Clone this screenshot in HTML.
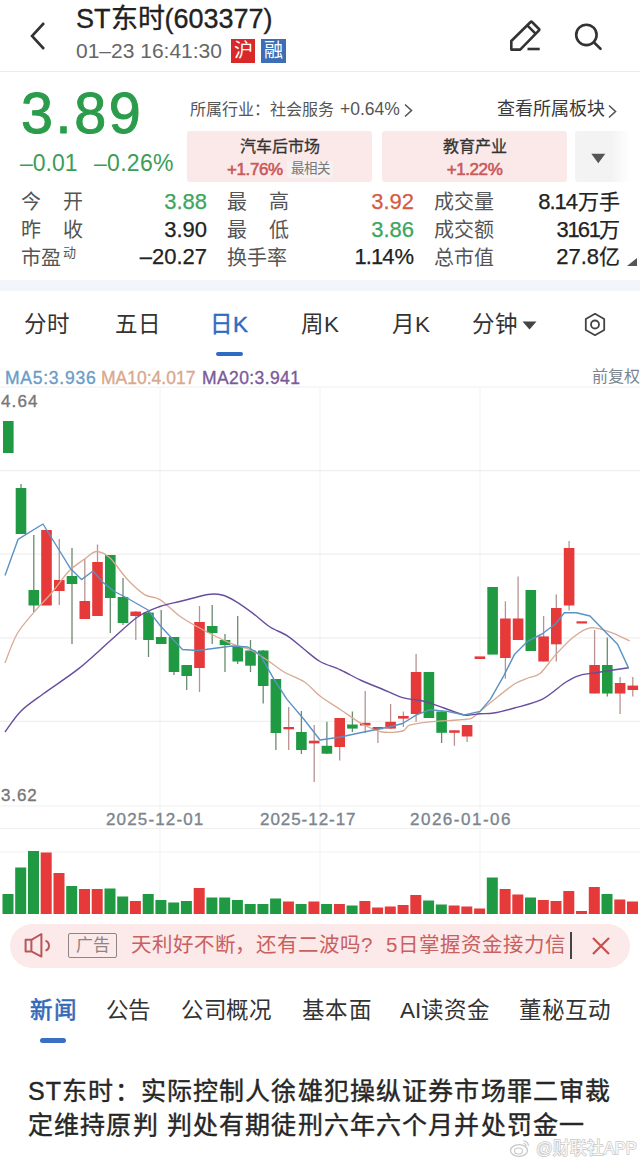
<!DOCTYPE html>
<html lang="zh-CN">
<head>
<meta charset="utf-8">
<style>
*{margin:0;padding:0;box-sizing:border-box}
html,body{width:640px;height:1163px;overflow:hidden;background:#fff}
body{font-family:"Liberation Sans",sans-serif;color:#222;position:relative}
.a{position:absolute;white-space:nowrap;line-height:1}
</style>
</head>
<body>
<!-- HEADER -->
<svg class="a" style="left:28px;top:20px" width="20" height="32" viewBox="0 0 20 32"><path d="M16 3 L4 16 L16 29" fill="none" stroke="#333" stroke-width="2.6"/></svg>
<div class="a" id="title" style="left:76px;top:6px;font-size:27px;color:#222;-webkit-text-stroke:0.35px #222">ST东时(603377)</div>
<div class="a" id="dt" style="left:76px;top:40px;font-size:21px;color:#666">01–23 16:41:30</div>
<div class="a" style="left:231px;top:39px;width:24px;height:24px;background:#d8282a;color:#fff;font-size:19px;text-align:center;line-height:24px">沪</div>
<div class="a" style="left:261px;top:39px;width:25px;height:24px;background:#3d6db5;color:#fff;font-size:19px;text-align:center;line-height:24px">融</div>
<div class="a" style="left:0;top:71px;width:640px;height:1px;background:#ececec"></div>

<!-- header icons -->
<svg class="a" style="left:500px;top:15px" width="50" height="45" viewBox="0 0 50 45"><path d="M11.3 34.6 L11.3 26 L30.6 7 Q31.3 6.3 32 7 L39 14 Q39.7 14.7 39 15.4 L20.2 34.6 Z" fill="none" stroke="#333" stroke-width="2.6" stroke-linejoin="round"/><path d="M27.3 10.4 L35.8 18.9" stroke="#333" stroke-width="2.6"/><path d="M27.5 34 L39.7 34" stroke="#333" stroke-width="2.6"/></svg>
<svg class="a" style="left:560px;top:10px" width="50" height="45" viewBox="0 0 50 45"><circle cx="26.4" cy="24.9" r="10.2" fill="none" stroke="#333" stroke-width="2.6"/><path d="M33.8 32.3 L40.5 38.8" stroke="#333" stroke-width="2.6" stroke-linecap="round"/></svg>

<!-- QUOTE -->
<div class="a" style="left:21px;top:84.5px;font-size:57.5px;color:#2b9c4b;letter-spacing:2.6px;-webkit-text-stroke:1px #2b9c4b">3.89</div>
<div class="a" style="left:20px;top:152px;font-size:23px;color:#3a9d58">–0.01</div>
<div class="a" style="left:94px;top:152px;font-size:23px;color:#3a9d58;letter-spacing:0.3px">–0.26%</div>
<div class="a" style="left:190px;top:102px;font-size:16px;color:#555">所属行业：社会服务</div>
<div class="a" style="left:340px;top:101px;font-size:17.5px;color:#555">+0.64%</div>
<svg class="a" style="left:403px;top:103px" width="11" height="15" viewBox="0 0 11 15"><path d="M2 1.5 L8.5 7.5 L2 13.5" fill="none" stroke="#555" stroke-width="1.6"/></svg>
<div class="a" style="left:497px;top:100px;font-size:18px;color:#3a3a3a">查看所属板块</div>
<svg class="a" style="left:607px;top:104px" width="11" height="15" viewBox="0 0 11 15"><path d="M2 1.5 L8.5 7.5 L2 13.5" fill="none" stroke="#555" stroke-width="1.6"/></svg>

<div class="a" style="left:187px;top:131px;width:185px;height:51px;background:#fbe9e9;border-radius:3px"></div>
<div class="a" style="left:382px;top:131px;width:185px;height:51px;background:#fbe9e9;border-radius:3px"></div>
<div class="a" style="left:575px;top:131px;width:65px;height:51px;background:linear-gradient(90deg,#f3f3f3 0%,#f3f3f3 55%,#fff 85%);border-radius:3px 0 0 3px"></div>
<div class="a" style="left:187px;top:138.5px;width:185px;text-align:center;font-size:16px;color:#333;-webkit-text-stroke:0.3px #333">汽车后市场</div>
<div class="a" style="left:227px;top:160.5px;font-size:17px;letter-spacing:-0.4px;color:#c9595a;-webkit-text-stroke:0.6px #c9595a">+1.76%</div>
<div class="a" style="left:287px;top:161px;width:46px;height:17px;background:#f6f1f1;border-radius:2px"></div>
<div class="a" style="left:291px;top:162px;font-size:13.5px;color:#777">最相关</div>
<div class="a" style="left:382px;top:138.5px;width:185px;text-align:center;font-size:16px;color:#333;-webkit-text-stroke:0.3px #333">教育产业</div>
<div class="a" style="left:382px;top:160.5px;width:185px;text-align:center;font-size:17px;letter-spacing:-0.4px;color:#c9595a;-webkit-text-stroke:0.6px #c9595a">+1.22%</div>
<svg class="a" style="left:591px;top:153px" width="15" height="11" viewBox="0 0 15 11"><path d="M0.3 0.8 L14.3 0.8 L7.3 10.2 Z" fill="#555"/></svg>

<!-- STATS -->
<div class="a" style="left:21px;top:188px;font-size:20px;color:#555;line-height:28px">今<span style="display:inline-block;width:22px"></span>开<br>昨<span style="display:inline-block;width:22px"></span>收<br>市盈<sup style="font-size:13px;vertical-align:top;line-height:13px;position:relative;top:2px;left:2px">动</sup></div>
<div class="a" style="left:100px;top:188px;width:107px;text-align:right;font-size:22px;line-height:27.5px;-webkit-text-stroke:0.25px #222"><span style="color:#3da55d;-webkit-text-stroke:0.25px #3da55d">3.88</span><br>3.90<br>–20.27</div>
<div class="a" style="left:227px;top:188px;font-size:20px;color:#555;line-height:28px">最<span style="display:inline-block;width:22px"></span>高<br>最<span style="display:inline-block;width:22px"></span>低<br>换手率</div>
<div class="a" style="left:300px;top:188px;width:114px;text-align:right;font-size:22px;line-height:27.5px;-webkit-text-stroke:0.25px #222"><span style="color:#d55a43;-webkit-text-stroke:0.25px #d55a43">3.92</span><br><span style="color:#3da55d;-webkit-text-stroke:0.25px #3da55d">3.86</span><br><span style="letter-spacing:-1px">1</span><span style="letter-spacing:-1px">.</span><span style="letter-spacing:-1px">1</span>4%</div>
<div class="a" style="left:434px;top:188px;font-size:20px;color:#555;line-height:28px">成交量<br>成交额<br>总市值</div>
<div class="a" style="left:500px;top:188px;width:120px;text-align:right;font-size:22px;line-height:27.5px;-webkit-text-stroke:0.25px #222"><span style="letter-spacing:-1px">8.</span><span style="letter-spacing:-1px">1</span>4<span style="font-size:21px">万手</span><br><span style="letter-spacing:-1.3px">3</span><span style="letter-spacing:-1.9px">1</span><span style="letter-spacing:-1.3px">6</span><span style="letter-spacing:-1.9px">1</span><span style="font-size:21px">万</span><br>27.8<span style="font-size:21px">亿</span></div>
<svg class="a" style="left:626px;top:258px" width="12" height="9" viewBox="0 0 12 9"><path d="M11 0 L11 8 L1 8 Z" fill="#555"/></svg>

<div class="a" style="left:0;top:280px;width:640px;height:11px;background:#f2f5f9"></div>
<!-- TABS -->
<div class="a" style="left:24px;top:314px;font-size:22.5px;color:#333">分时</div>
<div class="a" style="left:115px;top:314px;font-size:22.5px;color:#333">五日</div>
<div class="a" style="left:210px;top:314px;font-size:22.5px;color:#2f6bc4;-webkit-text-stroke:0.4px #2f6bc4">日K</div>
<div class="a" style="left:216px;top:352px;width:27px;height:4px;border-radius:2px;background:#2f6bc4"></div>
<div class="a" style="left:301px;top:314px;font-size:22.5px;color:#333">周K</div>
<div class="a" style="left:392px;top:314px;font-size:22.5px;color:#333">月K</div>
<div class="a" style="left:472px;top:314px;font-size:22.5px;color:#333">分钟</div>
<svg class="a" style="left:522px;top:321px" width="15" height="9" viewBox="0 0 15 9"><path d="M0.5 0.5 L14.5 0.5 L7.5 8.5 Z" fill="#444"/></svg>
<svg class="a" style="left:583px;top:312px" width="24" height="25" viewBox="0 0 24 25"><path d="M12 1.8 L21.2 7 L21.2 18 L12 23.2 L2.8 18 L2.8 7 Z" fill="none" stroke="#444" stroke-width="1.8" stroke-linejoin="round"/><circle cx="12" cy="12.5" r="4" fill="none" stroke="#444" stroke-width="1.8"/></svg>

<!-- MA legend -->
<div class="a" style="left:5px;top:370px;font-size:17.5px;color:#6a9cc8;letter-spacing:0.75px;-webkit-text-stroke:0.35px #6a9cc8">MA5:3.936</div>
<div class="a" style="left:101px;top:370px;font-size:17.5px;color:#d9a88c;-webkit-text-stroke:0.35px #d9a88c">MA10:4.017</div>
<div class="a" style="left:202px;top:370px;font-size:17.5px;color:#7b5a9a;letter-spacing:0.4px;-webkit-text-stroke:0.35px #7b5a9a">MA20:3.941</div>
<div class="a" style="left:592px;top:369px;font-size:16px;color:#7a8590">前复权</div>

<svg class="a" style="left:0;top:0" width="640" height="920" viewBox="0 0 640 920">
<line x1="0" y1="387" x2="640" y2="387" stroke="#efefef" stroke-width="1.2"/>
<line x1="0" y1="470.6" x2="640" y2="470.6" stroke="#efefef" stroke-width="1.2"/>
<line x1="0" y1="554.2" x2="640" y2="554.2" stroke="#efefef" stroke-width="1.2"/>
<line x1="0" y1="637.8" x2="640" y2="637.8" stroke="#efefef" stroke-width="1.2"/>
<line x1="0" y1="721.4" x2="640" y2="721.4" stroke="#efefef" stroke-width="1.2"/>
<line x1="0" y1="806" x2="640" y2="806" stroke="#efefef" stroke-width="1.2"/>
<line x1="0" y1="828.5" x2="640" y2="828.5" stroke="#efefef" stroke-width="1.2"/>
<line x1="0" y1="852" x2="640" y2="852" stroke="#f1f1f1" stroke-width="1"/>
<line x1="160" y1="387" x2="160" y2="914" stroke="#f2f2f2" stroke-width="1"/>
<line x1="320" y1="387" x2="320" y2="914" stroke="#f2f2f2" stroke-width="1"/>
<line x1="480" y1="387" x2="480" y2="914" stroke="#f2f2f2" stroke-width="1"/>
<rect x="3.0" y="421" width="10.6" height="32.0" fill="#1f9a43"/>
<line x1="21.0" y1="484" x2="21.0" y2="534" stroke="#6c8a72" stroke-width="1.3"/>
<rect x="15.7" y="488" width="10.6" height="46.0" fill="#1f9a43"/>
<line x1="33.8" y1="535" x2="33.8" y2="612" stroke="#6c8a72" stroke-width="1.3"/>
<rect x="28.5" y="590" width="10.6" height="15.5" fill="#1f9a43"/>
<rect x="41.2" y="530" width="10.6" height="75.5" fill="#e5393a"/>
<line x1="59.3" y1="539" x2="59.3" y2="605" stroke="#b89292" stroke-width="1.3"/>
<rect x="54.0" y="580" width="10.6" height="11.0" fill="#e5393a"/>
<line x1="72.0" y1="548" x2="72.0" y2="644" stroke="#6c8a72" stroke-width="1.3"/>
<rect x="66.7" y="576" width="10.6" height="8.0" fill="#1f9a43"/>
<line x1="84.8" y1="559" x2="84.8" y2="619" stroke="#b89292" stroke-width="1.3"/>
<rect x="79.5" y="601" width="10.6" height="18.0" fill="#e5393a"/>
<line x1="97.5" y1="544.5" x2="97.5" y2="616" stroke="#b89292" stroke-width="1.3"/>
<rect x="92.2" y="562" width="10.6" height="54.0" fill="#e5393a"/>
<line x1="110.3" y1="555" x2="110.3" y2="633" stroke="#6c8a72" stroke-width="1.3"/>
<rect x="105.0" y="555" width="10.6" height="43.0" fill="#1f9a43"/>
<line x1="123.0" y1="578" x2="123.0" y2="625" stroke="#6c8a72" stroke-width="1.3"/>
<rect x="117.7" y="597" width="10.6" height="26.0" fill="#1f9a43"/>
<line x1="135.8" y1="611" x2="135.8" y2="640" stroke="#b89292" stroke-width="1.3"/>
<rect x="130.4" y="611.6" width="10.6" height="4.4" fill="#e5393a"/>
<line x1="148.5" y1="612" x2="148.5" y2="657" stroke="#6c8a72" stroke-width="1.3"/>
<rect x="143.2" y="612.6" width="10.6" height="27.4" fill="#1f9a43"/>
<line x1="161.2" y1="610" x2="161.2" y2="644" stroke="#6c8a72" stroke-width="1.3"/>
<rect x="155.9" y="637" width="10.6" height="7.0" fill="#1f9a43"/>
<line x1="174.0" y1="637" x2="174.0" y2="675" stroke="#6c8a72" stroke-width="1.3"/>
<rect x="168.7" y="637" width="10.6" height="35.0" fill="#1f9a43"/>
<line x1="186.7" y1="665" x2="186.7" y2="690" stroke="#6c8a72" stroke-width="1.3"/>
<rect x="181.4" y="665" width="10.6" height="11.0" fill="#1f9a43"/>
<line x1="199.5" y1="606" x2="199.5" y2="692" stroke="#b89292" stroke-width="1.3"/>
<rect x="194.2" y="622" width="10.6" height="46.0" fill="#e5393a"/>
<line x1="212.2" y1="605" x2="212.2" y2="644" stroke="#6c8a72" stroke-width="1.3"/>
<rect x="206.9" y="626" width="10.6" height="7.0" fill="#1f9a43"/>
<line x1="225.0" y1="634" x2="225.0" y2="672" stroke="#6c8a72" stroke-width="1.3"/>
<rect x="219.7" y="640" width="10.6" height="5.0" fill="#1f9a43"/>
<line x1="237.7" y1="616" x2="237.7" y2="664" stroke="#6c8a72" stroke-width="1.3"/>
<rect x="232.4" y="647" width="10.6" height="14.5" fill="#1f9a43"/>
<line x1="250.5" y1="640" x2="250.5" y2="672" stroke="#6c8a72" stroke-width="1.3"/>
<rect x="245.2" y="650.5" width="10.6" height="15.2" fill="#1f9a43"/>
<line x1="263.2" y1="650" x2="263.2" y2="703.5" stroke="#6c8a72" stroke-width="1.3"/>
<rect x="257.9" y="650.5" width="10.6" height="35.5" fill="#1f9a43"/>
<line x1="275.9" y1="679" x2="275.9" y2="750" stroke="#6c8a72" stroke-width="1.3"/>
<rect x="270.6" y="679" width="10.6" height="54.0" fill="#1f9a43"/>
<line x1="288.7" y1="707" x2="288.7" y2="750" stroke="#b89292" stroke-width="1.3"/>
<rect x="283.4" y="727" width="10.6" height="2.3" fill="#e5393a"/>
<line x1="301.4" y1="711" x2="301.4" y2="754" stroke="#6c8a72" stroke-width="1.3"/>
<rect x="296.1" y="732" width="10.6" height="18.0" fill="#1f9a43"/>
<line x1="314.2" y1="725" x2="314.2" y2="782" stroke="#b89292" stroke-width="1.3"/>
<rect x="308.9" y="740.7" width="10.6" height="2.7" fill="#e5393a"/>
<line x1="326.9" y1="721.8" x2="326.9" y2="754" stroke="#6c8a72" stroke-width="1.3"/>
<rect x="321.6" y="745.8" width="10.6" height="7.9" fill="#1f9a43"/>
<line x1="339.7" y1="718" x2="339.7" y2="760.6" stroke="#b89292" stroke-width="1.3"/>
<rect x="334.4" y="718" width="10.6" height="29.0" fill="#e5393a"/>
<line x1="352.4" y1="711.5" x2="352.4" y2="732" stroke="#6c8a72" stroke-width="1.3"/>
<rect x="347.1" y="724.5" width="10.6" height="4.1" fill="#1f9a43"/>
<line x1="365.2" y1="691" x2="365.2" y2="733" stroke="#b89292" stroke-width="1.3"/>
<rect x="359.9" y="722.8" width="10.6" height="2.7" fill="#e5393a"/>
<line x1="377.9" y1="727" x2="377.9" y2="743" stroke="#b89292" stroke-width="1.3"/>
<rect x="372.6" y="727" width="10.6" height="2.2" fill="#e5393a"/>
<line x1="390.6" y1="704" x2="390.6" y2="729" stroke="#b89292" stroke-width="1.3"/>
<rect x="385.3" y="721.8" width="10.6" height="6.8" fill="#e5393a"/>
<line x1="403.4" y1="711.5" x2="403.4" y2="727" stroke="#b89292" stroke-width="1.3"/>
<rect x="398.1" y="716" width="10.6" height="2.6" fill="#e5393a"/>
<line x1="416.1" y1="654" x2="416.1" y2="721.8" stroke="#b89292" stroke-width="1.3"/>
<rect x="410.8" y="672" width="10.6" height="42.0" fill="#e5393a"/>
<rect x="423.6" y="672" width="10.6" height="46.0" fill="#1f9a43"/>
<line x1="441.6" y1="711" x2="441.6" y2="743" stroke="#6c8a72" stroke-width="1.3"/>
<rect x="436.3" y="711.5" width="10.6" height="21.3" fill="#1f9a43"/>
<line x1="454.4" y1="730" x2="454.4" y2="745.8" stroke="#b89292" stroke-width="1.3"/>
<rect x="449.1" y="730.3" width="10.6" height="2.5" fill="#e5393a"/>
<line x1="467.1" y1="725" x2="467.1" y2="742" stroke="#b89292" stroke-width="1.3"/>
<rect x="461.8" y="725" width="10.6" height="11.5" fill="#e5393a"/>
<rect x="474.6" y="656.4" width="10.6" height="2.6" fill="#e5393a"/>
<rect x="487.3" y="587" width="10.6" height="67.6" fill="#1f9a43"/>
<line x1="505.4" y1="601.3" x2="505.4" y2="678.7" stroke="#b89292" stroke-width="1.3"/>
<rect x="500.1" y="618.5" width="10.6" height="39.5" fill="#e5393a"/>
<line x1="518.1" y1="576.5" x2="518.1" y2="640" stroke="#b89292" stroke-width="1.3"/>
<rect x="512.8" y="618.5" width="10.6" height="21.5" fill="#e5393a"/>
<rect x="525.5" y="590" width="10.6" height="61.0" fill="#1f9a43"/>
<line x1="543.6" y1="616" x2="543.6" y2="661.5" stroke="#b89292" stroke-width="1.3"/>
<rect x="538.3" y="636.4" width="10.6" height="25.1" fill="#e5393a"/>
<line x1="556.3" y1="594.4" x2="556.3" y2="661.5" stroke="#b89292" stroke-width="1.3"/>
<rect x="551.0" y="608" width="10.6" height="36.3" fill="#e5393a"/>
<line x1="569.1" y1="541" x2="569.1" y2="610.6" stroke="#b89292" stroke-width="1.3"/>
<rect x="563.8" y="548" width="10.6" height="57.5" fill="#e5393a"/>
<rect x="576.5" y="621.3" width="10.6" height="2.2" fill="#e5393a"/>
<line x1="594.6" y1="630" x2="594.6" y2="693.5" stroke="#b89292" stroke-width="1.3"/>
<rect x="589.3" y="665" width="10.6" height="28.5" fill="#e5393a"/>
<line x1="607.3" y1="637.4" x2="607.3" y2="696.6" stroke="#6c8a72" stroke-width="1.3"/>
<rect x="602.0" y="665" width="10.6" height="28.5" fill="#1f9a43"/>
<line x1="620.1" y1="677" x2="620.1" y2="714" stroke="#b89292" stroke-width="1.3"/>
<rect x="614.8" y="683" width="10.6" height="10.5" fill="#e5393a"/>
<line x1="632.8" y1="677" x2="632.8" y2="696.6" stroke="#b89292" stroke-width="1.3"/>
<rect x="627.5" y="685.6" width="10.6" height="4.4" fill="#e5393a"/>
<path d="M5,663 C6.8,658.6 12.6,641.7 17,634 C21.4,626.3 29.3,617.8 34.5,611.6 C39.7,605.5 46.4,599.1 51.6,593 C56.8,586.9 63.8,576.2 69,571 C74.2,565.8 81.9,560.9 86,558 C90.1,555.1 92.9,551.5 96.5,551.5 C100.1,551.5 105.4,553.9 110,558 C114.6,562.1 121.8,573.5 127,579 C132.2,584.5 139.6,591.5 144.5,594.6 C149.4,597.7 154.6,596.3 160,599.6 C165.4,602.9 174.4,612.4 180.6,616.8 C186.8,621.2 193.7,624.9 201,628.8 C208.3,632.7 221.7,639.5 229,642.6 C236.3,645.7 243.8,646.9 249.5,649.5 C255.2,652.1 261.8,656.6 267,660 C272.2,663.4 278.4,668.7 284,672 C289.6,675.3 299.1,678.4 304.5,682 C309.9,685.6 314.6,691.8 320,696 C325.4,700.2 334.4,705.6 340.6,709.7 C346.8,713.8 355.1,720.2 361.3,723.5 C367.5,726.8 375.8,730.9 382,732 C388.2,733.1 398.5,732.0 402.6,731 C406.7,730.0 405.4,726.6 409.5,725.2 C413.6,723.8 422.8,722.6 430,721.8 C437.2,721.0 451.4,720.5 457.6,720 C463.8,719.5 468.0,719.6 471.4,718.3 C474.8,717.0 477.2,713.7 480,711.4 C482.8,709.1 485.1,706.9 490.3,702.8 C495.5,698.7 508.7,687.7 514.4,684 C520.1,680.3 524.2,679.6 528,678 C531.8,676.4 535.8,677.1 540,673.6 C544.2,670.1 550.8,660.0 555.7,654.6 C560.7,649.2 567.9,641.4 573,637.4 C578.1,633.4 584.3,628.6 590,627.8 C595.7,627.0 604.8,630.3 610.8,632.3 C616.8,634.3 626.9,639.7 629.7,641" fill="none" stroke="#d9aa92" stroke-width="1.3" stroke-linejoin="round"/>
<path d="M5,732 C7.3,728.9 14.9,717.1 20.6,711.4 C26.3,705.7 34.2,700.5 43,694 C51.8,687.5 69.0,676.4 79,668.4 C89.0,660.4 101.2,648.7 110,641 C118.8,633.3 130.1,622.2 137.6,617 C145.1,611.8 153.6,608.9 160,606.5 C166.4,604.1 173.4,603.1 180.6,601.3 C187.8,599.5 201.8,595.4 208,594.5 C214.2,593.6 217.8,594.0 222,595 C226.2,596.0 231.0,598.5 235.7,601.3 C240.3,604.1 247.9,609.5 253,613.4 C258.1,617.3 264.9,623.7 270,627 C275.1,630.3 281.8,632.3 287,635.7 C292.2,639.1 299.6,645.6 304.5,649.5 C309.4,653.4 314.6,658.4 320,661.5 C325.4,664.6 334.4,667.1 340.6,670 C346.8,672.9 355.1,677.6 361.3,680.5 C367.5,683.4 375.8,686.4 382,689 C388.2,691.6 396.5,695.9 402.6,697.7 C408.8,699.5 416.8,699.5 423,701 C429.2,702.5 437.8,705.9 444,708 C450.2,710.1 459.1,714.1 464.5,715 C469.9,715.9 475.6,714.1 480,713.8 C484.4,713.5 488.6,713.9 493.8,713 C499.0,712.1 507.2,710.0 514.4,708 C521.6,706.0 534.3,703.3 542,699.4 C549.7,695.5 560.3,685.6 566,682 C571.7,678.4 574.8,676.8 580,675.3 C585.2,673.8 593.1,673.1 600.4,672 C607.7,670.9 624.5,668.3 628.7,667.7" fill="none" stroke="#684c9e" stroke-width="1.4" stroke-linejoin="round"/>
<path d="M5,575.5 C5.0,575.5 18.0,539.4 18,539.4 C18.0,539.4 43.0,524.0 43,524 C43.0,524.0 60.0,551.5 60,551.5 C60.0,551.5 70.5,568.6 70.5,568.6 C70.5,568.6 81.5,579.6 81.5,579.6 C81.5,579.6 93.0,571.0 93,571 C93.0,571.0 103.0,582.4 103,582.4 C103.0,582.4 113.5,591.0 113.5,591 C113.5,591.0 127.0,598.0 127,598 C127.0,598.0 148.0,610.0 148,610 C148.0,610.0 160.0,625.4 160,625.4 C160.0,625.4 182.4,649.5 182.4,649.5 C182.4,649.5 198.0,650.5 198,650.5 C198.0,650.5 232.0,646.0 232,646 C232.0,646.0 247.7,647.0 247.7,647 C247.7,647.0 260.0,654.6 260,654.6 C260.0,654.6 273.6,678.7 273.6,678.7 C273.6,678.7 287.0,699.4 287,699.4 C287.0,699.4 304.5,720.0 304.5,720 C304.5,720.0 320.0,740.0 320,740 C320.0,740.0 340.6,737.0 340.6,737 C340.6,737.0 354.4,734.0 354.4,734 C354.4,734.0 375.0,729.7 375,729.7 C375.0,729.7 388.8,727.0 388.8,727 C388.8,727.0 402.6,723.5 402.6,723.5 C402.6,723.5 416.4,714.9 416.4,714.9 C416.4,714.9 430.0,709.7 430,709.7 C430.0,709.7 447.3,711.4 447.3,711.4 C447.3,711.4 464.5,715.0 464.5,715 C464.5,715.0 480.0,711.4 480,711.4 C480.0,711.4 490.3,699.4 490.3,699.4 C490.3,699.4 504.0,675.3 504,675.3 C504.0,675.3 514.4,654.6 514.4,654.6 C514.4,654.6 528.0,641.0 528,641 C528.0,641.0 542.0,634.0 542,634 C542.0,634.0 555.7,623.7 555.7,623.7 C555.7,623.7 564.3,612.7 564.3,612.7 C564.3,612.7 576.4,612.7 576.4,612.7 C576.4,612.7 590.0,616.0 590,616 C590.0,616.0 604.0,630.6 604,630.6 C604.0,630.6 617.6,644.3 617.6,644.3 C617.6,644.3 628.7,668.4 628.7,668.4" fill="none" stroke="#5a92c4" stroke-width="1.4" stroke-linejoin="round"/>
<rect x="2.5" y="894" width="11" height="20.0" fill="#1f9a43"/>
<rect x="15.2" y="867.5" width="11" height="46.5" fill="#1f9a43"/>
<rect x="28.0" y="851" width="11" height="63.0" fill="#1f9a43"/>
<rect x="40.7" y="852.5" width="11" height="61.5" fill="#e5393a"/>
<rect x="53.5" y="873" width="11" height="41.0" fill="#e5393a"/>
<rect x="66.2" y="886" width="11" height="28.0" fill="#1f9a43"/>
<rect x="79.0" y="889" width="11" height="25.0" fill="#e5393a"/>
<rect x="91.7" y="889" width="11" height="25.0" fill="#e5393a"/>
<rect x="104.5" y="888.5" width="11" height="25.5" fill="#1f9a43"/>
<rect x="117.2" y="896.5" width="11" height="17.5" fill="#1f9a43"/>
<rect x="129.9" y="901" width="11" height="13.0" fill="#e5393a"/>
<rect x="142.7" y="894" width="11" height="20.0" fill="#1f9a43"/>
<rect x="155.4" y="900" width="11" height="14.0" fill="#1f9a43"/>
<rect x="168.2" y="902.5" width="11" height="11.5" fill="#1f9a43"/>
<rect x="180.9" y="901" width="11" height="13.0" fill="#1f9a43"/>
<rect x="193.7" y="888" width="11" height="26.0" fill="#e5393a"/>
<rect x="206.4" y="897.5" width="11" height="16.5" fill="#1f9a43"/>
<rect x="219.2" y="897.5" width="11" height="16.5" fill="#1f9a43"/>
<rect x="231.9" y="900" width="11" height="14.0" fill="#1f9a43"/>
<rect x="244.7" y="904" width="11" height="10.0" fill="#1f9a43"/>
<rect x="257.4" y="904" width="11" height="10.0" fill="#1f9a43"/>
<rect x="270.1" y="898.5" width="11" height="15.5" fill="#1f9a43"/>
<rect x="282.9" y="901.5" width="11" height="12.5" fill="#e5393a"/>
<rect x="295.6" y="904" width="11" height="10.0" fill="#1f9a43"/>
<rect x="308.4" y="901.5" width="11" height="12.5" fill="#e5393a"/>
<rect x="321.1" y="904" width="11" height="10.0" fill="#1f9a43"/>
<rect x="333.9" y="904" width="11" height="10.0" fill="#e5393a"/>
<rect x="346.6" y="905.5" width="11" height="8.5" fill="#1f9a43"/>
<rect x="359.4" y="901" width="11" height="13.0" fill="#e5393a"/>
<rect x="372.1" y="907.5" width="11" height="6.5" fill="#e5393a"/>
<rect x="384.8" y="906.5" width="11" height="7.5" fill="#e5393a"/>
<rect x="397.6" y="905" width="11" height="9.0" fill="#e5393a"/>
<rect x="410.3" y="895" width="11" height="19.0" fill="#e5393a"/>
<rect x="423.1" y="900.5" width="11" height="13.5" fill="#1f9a43"/>
<rect x="435.8" y="904.5" width="11" height="9.5" fill="#1f9a43"/>
<rect x="448.6" y="905.5" width="11" height="8.5" fill="#e5393a"/>
<rect x="461.3" y="906.5" width="11" height="7.5" fill="#e5393a"/>
<rect x="474.1" y="908.5" width="11" height="5.5" fill="#e5393a"/>
<rect x="486.8" y="877.5" width="11" height="36.5" fill="#1f9a43"/>
<rect x="499.6" y="889" width="11" height="25.0" fill="#e5393a"/>
<rect x="512.3" y="894.5" width="11" height="19.5" fill="#e5393a"/>
<rect x="525.0" y="897.5" width="11" height="16.5" fill="#1f9a43"/>
<rect x="537.8" y="900" width="11" height="14.0" fill="#e5393a"/>
<rect x="550.5" y="901" width="11" height="13.0" fill="#e5393a"/>
<rect x="563.3" y="891" width="11" height="23.0" fill="#e5393a"/>
<rect x="576.0" y="911" width="11" height="3.0" fill="#e5393a"/>
<rect x="588.8" y="887" width="11" height="27.0" fill="#e5393a"/>
<rect x="601.5" y="894" width="11" height="20.0" fill="#1f9a43"/>
<rect x="614.3" y="899.5" width="11" height="14.5" fill="#e5393a"/>
<rect x="627.0" y="901.5" width="11" height="12.5" fill="#e5393a"/>
</svg>
<div class="a" style="left:1px;top:393px;font-size:17px;color:#777;letter-spacing:1.1px;-webkit-text-stroke:0.35px #777">4.64</div>
<div class="a" style="left:1px;top:787px;font-size:17px;color:#777;letter-spacing:0.9px;-webkit-text-stroke:0.35px #777">3.62</div>
<div class="a" style="left:106px;top:811px;font-size:17px;color:#7c858e;letter-spacing:1.15px;-webkit-text-stroke:0.35px #7c858e">2025-12-01</div>
<div class="a" style="left:260px;top:811px;font-size:17px;color:#7c858e;letter-spacing:0.95px;-webkit-text-stroke:0.35px #7c858e">2025-12-17</div>
<div class="a" style="left:410px;top:811px;font-size:17px;color:#7c858e;letter-spacing:1.5px;-webkit-text-stroke:0.35px #7c858e">2026-01-06</div>

<!-- AD -->
<div class="a" style="left:10px;top:924px;width:620px;height:44px;border-radius:22px;background:#fce9e9"></div>
<svg class="a" style="left:24px;top:932px" width="30" height="27" viewBox="0 0 30 27"><path d="M1.6 7.8 L7.4 7.8 L17.4 2 L17.4 24.6 L7.4 19.4 L1.6 19.4 Z M7.4 7.8 L7.4 19.4" fill="none" stroke="#b8565b" stroke-width="2" stroke-linejoin="round"/><path d="M21.5 8.8 A5.2 5.2 0 0 1 21.5 18.6" fill="none" stroke="#b8565b" stroke-width="2"/></svg>
<div class="a" style="left:68px;top:933px;width:49px;height:25px;border:1.3px solid #8d8585;border-radius:2px;font-size:17px;color:#8d8585;text-align:center;line-height:23px">广告</div>
<div class="a" style="left:131px;top:935px;font-size:20.5px;letter-spacing:0.9px;color:#c86060">天利好不断，还有二波吗?</div>
<div class="a" style="left:386px;top:935px;font-size:20.5px;letter-spacing:1.0px;color:#c86060">5日掌握资金接力信</div>
<div class="a" style="left:570px;top:932px;width:1.6px;height:27px;background:#444"></div>
<svg class="a" style="left:590px;top:935px" width="22" height="22" viewBox="0 0 22 22"><path d="M3 3 L19 19 M19 3 L3 19" stroke="#c8504c" stroke-width="2.2"/></svg>

<!-- NEWS TABS -->
<div class="a" style="left:30px;top:1000px;font-size:22.5px;letter-spacing:0.6px;color:#3469b8;-webkit-text-stroke:0.6px #3469b8">新闻</div>
<div class="a" style="left:40px;top:1038px;width:25.5px;height:5px;border-radius:2.5px;background:#3a6fc3"></div>
<div class="a" style="left:106px;top:1000px;font-size:22.5px;letter-spacing:-0.6px;color:#333">公告</div>
<div class="a" style="left:181px;top:1000px;font-size:22.5px;letter-spacing:-0.4px;color:#333">公司概况</div>
<div class="a" style="left:302px;top:1000px;font-size:22.5px;letter-spacing:0.4px;color:#333">基本面</div>
<div class="a" style="left:400px;top:1000px;font-size:22.5px;letter-spacing:0px;color:#333">AI读资金</div>
<div class="a" style="left:519px;top:1000px;font-size:22.5px;letter-spacing:-0.1px;color:#333">董秘互动</div>

<!-- HEADLINE -->
<div class="a" style="left:28px;top:1075px;font-size:25px;line-height:33.5px;letter-spacing:1.15px;color:#262626;-webkit-text-stroke:0.4px #262626">ST东时：实际控制人徐雄犯操纵证券市场罪二审裁<br>定维持原判 判处有期徒刑六年六个月并处罚金一</div>
<svg class="a" style="left:509px;top:1138px" width="22" height="20" viewBox="0 0 22 20"><ellipse cx="10" cy="12.5" rx="8.5" ry="5.8" fill="none" stroke="#c8c8c8" stroke-width="1.3"/><ellipse cx="9.5" cy="13" rx="4" ry="3" fill="none" stroke="#c8c8c8" stroke-width="1.1"/><path d="M14 3 Q19 3 19.5 8 M14.5 5.5 Q17 5.5 17.2 8" fill="none" stroke="#c8c8c8" stroke-width="1.1"/></svg>
<div class="a" style="left:536px;top:1140px;font-size:16.5px;color:#fafafa;-webkit-text-stroke:1.4px #c8c8c8;paint-order:stroke fill">@财联社APP</div>
</body>
</html>
